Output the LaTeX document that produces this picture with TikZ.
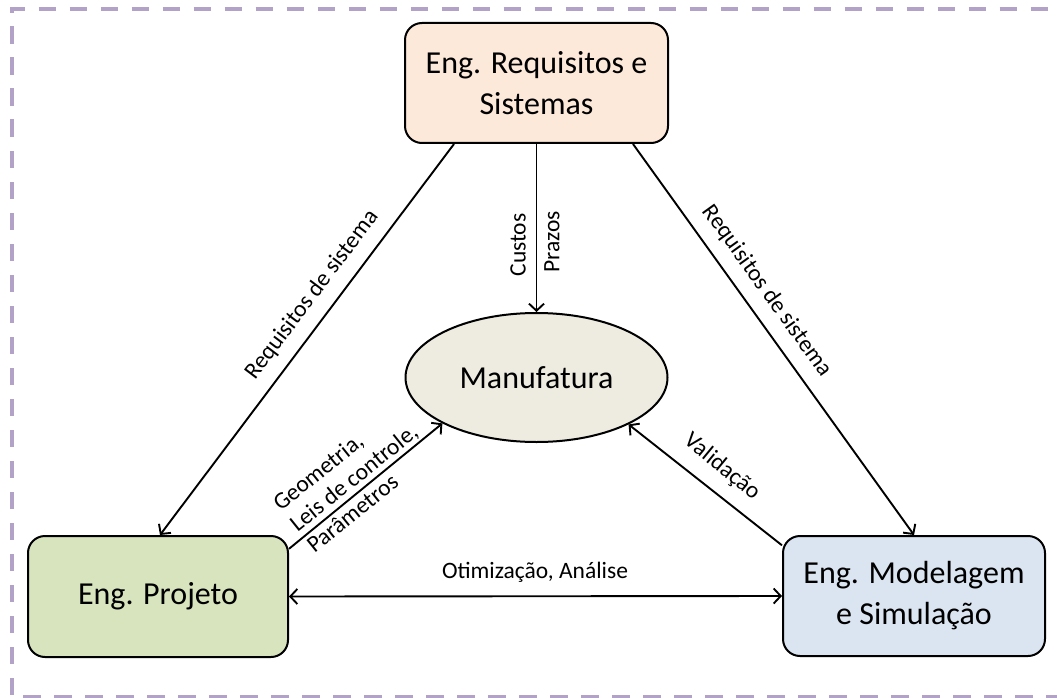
\documentclass[tikz,border=0pt]{standalone}
\usepackage{fontspec}
\setmainfont{Carlito}
\usetikzlibrary{arrows.meta,shapes.geometric,calc}
\definecolor{framelilac}{RGB}{178,162,199}
\definecolor{reqfill}{RGB}{253,233,217}
\definecolor{projfill}{RGB}{215,228,189}
\definecolor{modfill}{RGB}{219,229,241}
\definecolor{manfill}{RGB}{238,236,225}
\tikzset{barb/.tip={Straight Barb[length=7pt,width=15pt]}}

\begin{document}
\begin{tikzpicture}[x=1pt,y=-1pt,
  eng/.style={draw=black, line width=2pt, rounded corners=17pt,
    minimum width=263pt, minimum height=120pt, inner sep=0pt,
    align=center, font=\fontsize{32}{41}\selectfont},
  lbl/.style={inner sep=0pt, font=\fontsize{23.5}{27}\selectfont},
  link/.style={line width=1.9pt, -barb},
  twoway/.style={line width=1.9pt, barb-barb},
]
\useasboundingbox (0,0) rectangle (1057,698);

% dashed lilac frame, running off the right edge
\begin{scope}
  \clip (0,0) rectangle (1057,698);
  \draw[framelilac, line width=4pt, dash pattern=on 17.5pt off 13.5pt,
        dash phase=19.5pt]
    (1075,697) -- (11.5,697) -- (11.5,9) -- (1075,9);
\end{scope}

% engineering areas
\node[eng, fill=reqfill] (rq) at (536.5,83) {Eng. Requisitos e\\Sistemas};
\node[eng, fill=projfill, minimum width=260pt, minimum height=121pt]
  (pj) at (158,596.5) {Eng. Projeto};
\node[eng, fill=modfill, minimum width=262pt] (ms) at (914,596)
  {Eng. Modelagem\\e Simula\c{c}\~ao};
\node[ellipse, draw=black, line width=2pt, fill=manfill,
  minimum width=262pt, minimum height=129pt, inner sep=0pt,
  font=\fontsize{32}{41}\selectfont] (mf) at (536.5,377.5) {Manufatura};

% information flows
\draw[link] ([xshift=50pt]rq.south west) -- ([xshift=2pt]pj.north);
\draw[link] ([xshift=-36pt]rq.south east) -- (ms.north);
\draw[link] (rq.south) -- (mf.north);
\draw[link] (pj.20.5) -- (mf.206);
\draw[link] (ms.159.6) -- (mf.333.8);
\draw[twoway] (pj.east) -- (ms.west);

% flow labels
\node[lbl, rotate=90] (cu) at (518,245) {Custos};
\node[lbl, rotate=90] (pz) at (552,242) {Prazos};
\node[lbl, rotate=53] (rl) at (312,295) {Requisitos de sistema};
\node[lbl, rotate=-54.3] (rr) at (767,291) {Requisitos de sistema};
\node[lbl, rotate=-39.4] (va) at (722,467) {Valida\c{c}\~ao};
\node[lbl, anchor=base] (oa) at (535,578) {Otimiza\c{c}\~ao, An\'alise};
\node[lbl, rotate=38.7, align=left, anchor=west] (gp) at (292.5,526.4)
  {Geometria,\\Leis de controle,\\Par\^ametros};
\end{tikzpicture}
\end{document}
